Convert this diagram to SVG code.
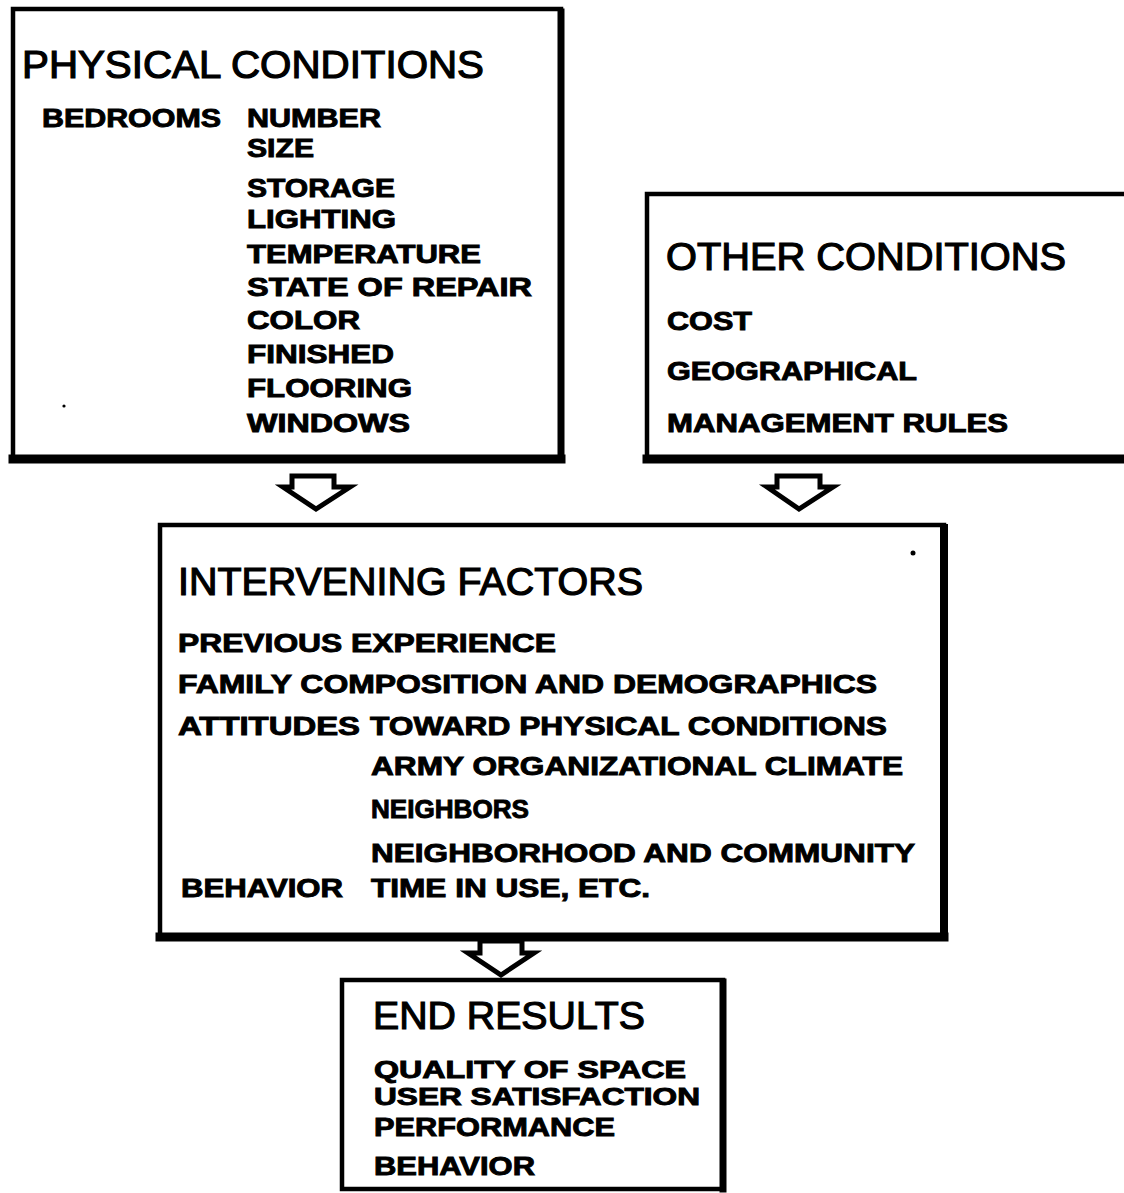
<svg xmlns="http://www.w3.org/2000/svg" width="1124" height="1193" viewBox="0 0 1124 1193">
  <style>
    .frame { fill: none; stroke: #000; stroke-width: 4.5; }
    .heavy { stroke: #000; stroke-linecap: square; }
    .title { font-family: "Liberation Sans", Arial, sans-serif; font-size: 38px; fill: #000; stroke: #000; stroke-width: 1.2; }
    .item { font-family: "Liberation Sans", Arial, sans-serif; font-weight: bold; font-size: 25px; fill: #000; stroke: #000; stroke-width: 0.9; }
    .small { font-size: 23px; }
    .arrow { fill: #fff; stroke: #000; stroke-width: 5; stroke-linejoin: miter; }
  </style>
  <rect width="1124" height="1193" fill="#fff"/>

  <g id="physical-conditions">
    <rect class="frame" x="13" y="9" width="548" height="450"/>
    <line class="heavy" x1="13" y1="459" x2="561" y2="459" stroke-width="9"/>
    <line class="heavy" x1="561" y1="12" x2="561" y2="459" stroke-width="7"/>
    <text class="title" x="22" y="78" textLength="462" lengthAdjust="spacingAndGlyphs">PHYSICAL CONDITIONS</text>
    <text class="item" x="42" y="127" textLength="179" lengthAdjust="spacingAndGlyphs">BEDROOMS</text>
    <text class="item" x="247" y="127" textLength="134" lengthAdjust="spacingAndGlyphs">NUMBER</text>
    <text class="item" x="247" y="157" textLength="67" lengthAdjust="spacingAndGlyphs">SIZE</text>
    <text class="item" x="247" y="197" textLength="148" lengthAdjust="spacingAndGlyphs">STORAGE</text>
    <text class="item" x="247" y="228" textLength="149" lengthAdjust="spacingAndGlyphs">LIGHTING</text>
    <text class="item" x="247" y="263" textLength="234" lengthAdjust="spacingAndGlyphs">TEMPERATURE</text>
    <text class="item" x="247" y="296" textLength="285" lengthAdjust="spacingAndGlyphs">STATE OF REPAIR</text>
    <text class="item" x="247" y="329" textLength="113" lengthAdjust="spacingAndGlyphs">COLOR</text>
    <text class="item" x="247" y="363" textLength="147" lengthAdjust="spacingAndGlyphs">FINISHED</text>
    <text class="item" x="247" y="397" textLength="165" lengthAdjust="spacingAndGlyphs">FLOORING</text>
    <text class="item" x="247" y="432" textLength="163" lengthAdjust="spacingAndGlyphs">WINDOWS</text>
    <circle cx="64" cy="406" r="1.6" fill="#000"/>
  </g>

  <g id="other-conditions">
    <path class="frame" d="M1130 194 H647 V459"/>
    <line class="heavy" x1="647" y1="459" x2="1130" y2="459" stroke-width="9"/>
    <text class="title" x="666" y="270" textLength="400" lengthAdjust="spacingAndGlyphs">OTHER CONDITIONS</text>
    <text class="item" x="667" y="330" textLength="85" lengthAdjust="spacingAndGlyphs">COST</text>
    <text class="item" x="667" y="380" textLength="250" lengthAdjust="spacingAndGlyphs">GEOGRAPHICAL</text>
    <text class="item" x="667" y="432" textLength="341" lengthAdjust="spacingAndGlyphs">MANAGEMENT RULES</text>
  </g>

  <g id="intervening-factors">
    <rect class="frame" x="160" y="525" width="784" height="412"/>
    <line class="heavy" x1="160" y1="937" x2="944" y2="937" stroke-width="9"/>
    <line class="heavy" x1="944" y1="528" x2="944" y2="937" stroke-width="8"/>
    <text class="title" x="178" y="595" textLength="465" lengthAdjust="spacingAndGlyphs">INTERVENING FACTORS</text>
    <text class="item" x="178" y="652" textLength="378" lengthAdjust="spacingAndGlyphs">PREVIOUS EXPERIENCE</text>
    <text class="item" x="178" y="693" textLength="699" lengthAdjust="spacingAndGlyphs">FAMILY COMPOSITION AND DEMOGRAPHICS</text>
    <text class="item" x="178" y="735" textLength="182" lengthAdjust="spacingAndGlyphs">ATTITUDES</text>
    <text class="item" x="370" y="735" textLength="517" lengthAdjust="spacingAndGlyphs">TOWARD PHYSICAL CONDITIONS</text>
    <text class="item" x="371" y="775" textLength="532" lengthAdjust="spacingAndGlyphs">ARMY ORGANIZATIONAL CLIMATE</text>
    <text class="item" x="371" y="818" textLength="158" lengthAdjust="spacingAndGlyphs">NEIGHBORS</text>
    <text class="item" x="371" y="862" textLength="544" lengthAdjust="spacingAndGlyphs">NEIGHBORHOOD AND COMMUNITY</text>
    <text class="item" x="181" y="897" textLength="162" lengthAdjust="spacingAndGlyphs">BEHAVIOR</text>
    <text class="item" x="371" y="897" textLength="279" lengthAdjust="spacingAndGlyphs">TIME IN USE, ETC.</text>
    <circle cx="913" cy="553" r="2.5" fill="#000"/>
  </g>

  <g id="end-results">
    <rect class="frame" x="342" y="980" width="381" height="209"/>
    <line class="heavy" x1="723" y1="982" x2="723" y2="1189" stroke-width="7"/>
    <text class="title" x="373" y="1029" textLength="272" lengthAdjust="spacingAndGlyphs">END RESULTS</text>
    <text class="item small" x="374" y="1078" textLength="312" lengthAdjust="spacingAndGlyphs">QUALITY OF SPACE</text>
    <text class="item small" x="374" y="1105" textLength="326" lengthAdjust="spacingAndGlyphs">USER SATISFACTION</text>
    <text class="item" x="374" y="1136" textLength="241" lengthAdjust="spacingAndGlyphs">PERFORMANCE</text>
    <text class="item" x="374" y="1175" textLength="161" lengthAdjust="spacingAndGlyphs">BEHAVIOR</text>
  </g>

  <g id="connectors">
    <polygon class="arrow" points="292,476 334,476 334,487 350,487 316,509 283,487 292,487"/>
    <polygon class="arrow" points="777,476 820,476 820,487 833,487 799,509 767,487 777,487"/>
    <polygon class="arrow" points="480,941 522,941 522,953 534,953 501,975 468,953 480,953"/>
  </g>
</svg>
